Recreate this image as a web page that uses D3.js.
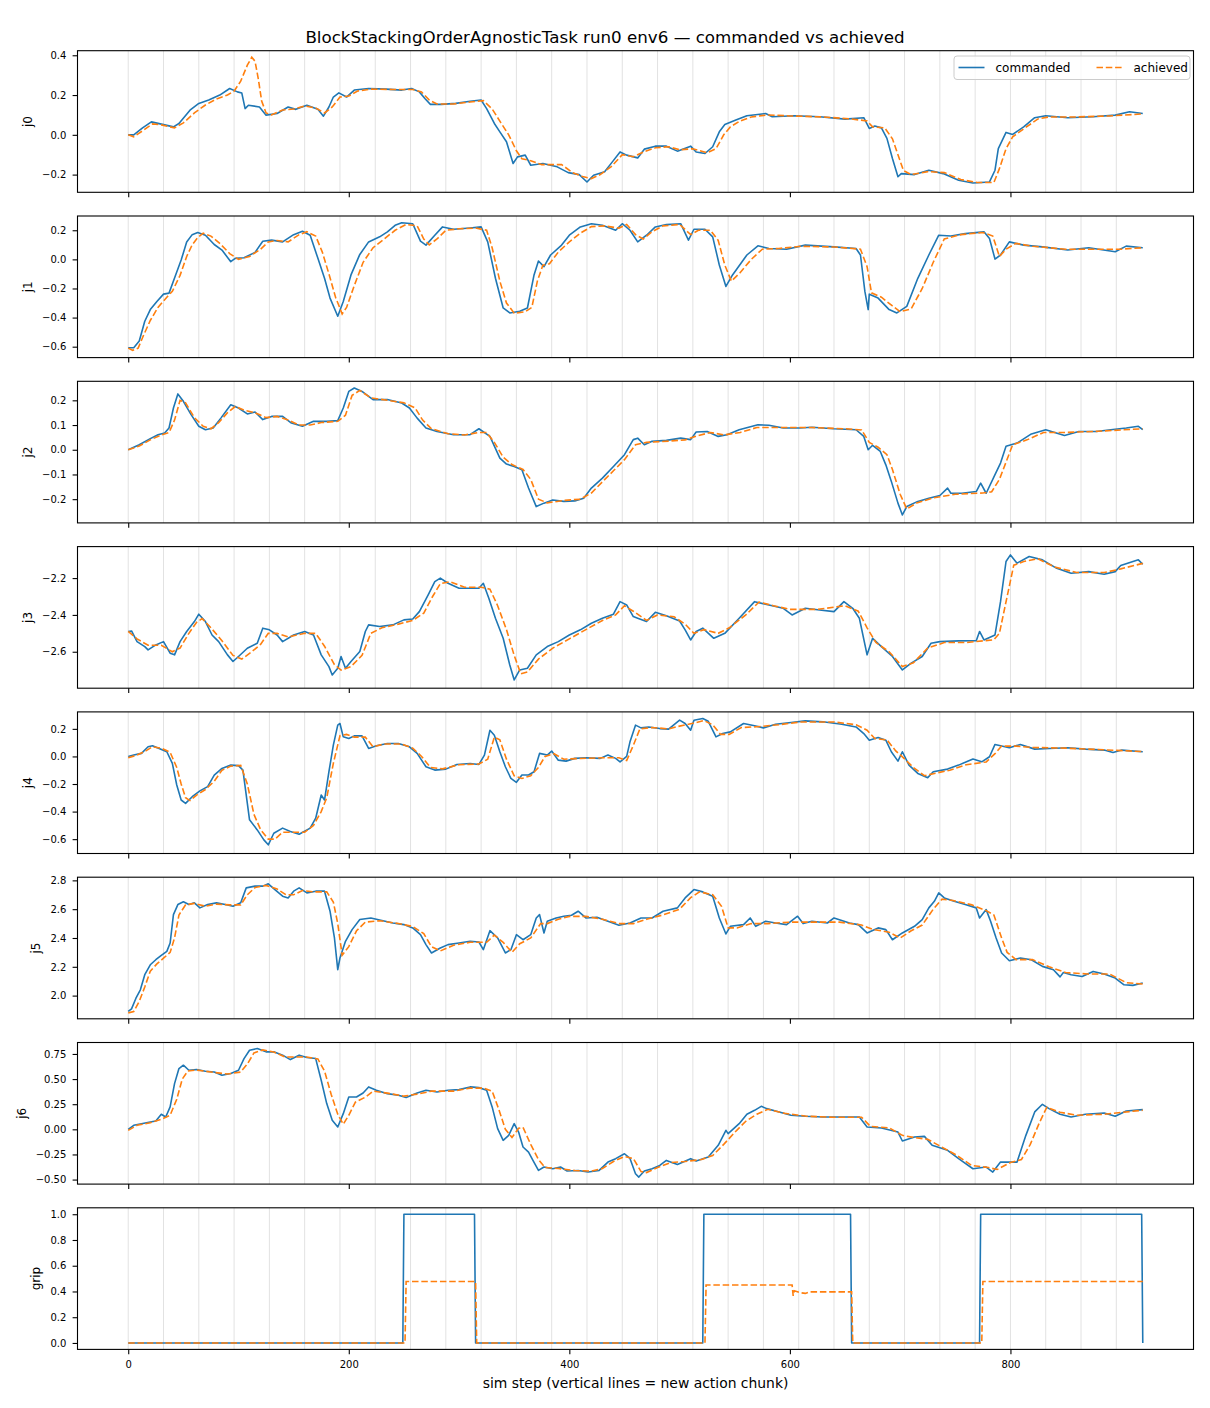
<!DOCTYPE html>
<html>
<head>
<meta charset="utf-8">
<script src="https://cdn.jsdelivr.net/npm/d3@7"></script>
<style>
  body { margin: 0; background: #fff; }
  text { font-family: "DejaVu Sans", sans-serif; fill: #000; }
</style>
</head>
<body>
<svg id="fig"></svg>
<script>
// ---- data: [sim step, value] ----
var j0_cmd = [[0,0.0],[5,0.0],[13,0.035],[21,0.065],[33,0.05],[41,0.04],[46,0.057],[56,0.124],[64,0.158],[73,0.175],[83,0.2],[92,0.233],[99,0.216],[103,0.21],[106,0.132],[109,0.149],[119,0.14],[125,0.099],[135,0.107],[145,0.14],[152,0.128],[162,0.149],[172,0.129],[177,0.094],[182,0.14],[186,0.19],[191,0.211],[198,0.19],[205,0.225],[218,0.233],[234,0.23],[248,0.225],[257,0.233],[264,0.216],[269,0.183],[274,0.153],[284,0.153],[297,0.158],[310,0.169],[320,0.175],[325,0.132],[332,0.057],[337,0.015],[343,-0.035],[349,-0.144],[353,-0.111],[360,-0.102],[365,-0.153],[376,-0.144],[389,-0.161],[399,-0.19],[409,-0.2],[416,-0.237],[422,-0.203],[432,-0.186],[439,-0.136],[446,-0.086],[452,-0.102],[462,-0.116],[468,-0.072],[478,-0.057],[488,-0.057],[498,-0.082],[510,-0.057],[515,-0.086],[523,-0.094],[530,-0.06],[536,0.015],[541,0.052],[551,0.074],[561,0.096],[578,0.107],[584,0.091],[604,0.096],[627,0.091],[650,0.079],[667,0.086],[672,0.032],[677,0.044],[683,0.035],[688,-0.018],[693,-0.119],[698,-0.211],[701,-0.195],[713,-0.2],[726,-0.178],[739,-0.195],[753,-0.228],[766,-0.242],[781,-0.237],[786,-0.178],[789,-0.069],[796,0.012],[802,0.002],[812,0.04],[822,0.086],[832,0.096],[852,0.086],[875,0.091],[895,0.099],[908,0.116],[920,0.107]]
var j0_ach = [[0,0.0],[5,-0.01],[13,0.02],[22,0.055],[30,0.05],[42,0.035],[50,0.06],[60,0.11],[70,0.15],[80,0.18],[90,0.2],[96,0.22],[102,0.27],[108,0.35],[112,0.39],[115,0.37],[118,0.28],[121,0.17],[125,0.11],[130,0.1],[140,0.125],[150,0.13],[160,0.145],[170,0.135],[178,0.11],[185,0.14],[192,0.19],[200,0.195],[208,0.22],[220,0.23],[240,0.228],[258,0.228],[266,0.215],[273,0.175],[280,0.155],[295,0.155],[310,0.165],[322,0.172],[330,0.13],[338,0.06],[345,0.0],[352,-0.08],[357,-0.12],[365,-0.13],[375,-0.15],[385,-0.15],[393,-0.15],[403,-0.19],[412,-0.21],[420,-0.22],[428,-0.2],[438,-0.16],[448,-0.1],[458,-0.11],[468,-0.085],[478,-0.065],[490,-0.06],[500,-0.075],[512,-0.07],[525,-0.09],[533,-0.07],[540,0.0],[546,0.04],[555,0.07],[565,0.09],[580,0.1],[600,0.095],[630,0.09],[655,0.08],[670,0.07],[675,0.04],[686,0.035],[693,-0.02],[698,-0.1],[703,-0.18],[710,-0.2],[725,-0.185],[740,-0.19],[755,-0.225],[770,-0.24],[785,-0.24],[790,-0.17],[796,-0.07],[802,-0.01],[812,0.03],[825,0.08],[835,0.09],[860,0.09],[890,0.095],[920,0.105]]

var j1_cmd = [[0,-0.607],[5,-0.607],[10,-0.561],[15,-0.425],[20,-0.345],[26,-0.289],[32,-0.239],[37,-0.232],[43,-0.107],[48,-0.005],[53,0.12],[58,0.17],[63,0.184],[70,0.166],[78,0.102],[85,0.064],[93,-0.016],[97,0.007],[105,0.011],[115,0.048],[122,0.125],[130,0.132],[140,0.12],[150,0.17],[158,0.193],[165,0.166],[172,0.007],[178,-0.13],[183,-0.266],[190,-0.391],[195,-0.289],[202,-0.107],[210,0.034],[218,0.12],[228,0.155],[235,0.189],[242,0.234],[248,0.252],[258,0.245],[265,0.125],[270,0.098],[278,0.166],[285,0.223],[295,0.207],[310,0.216],[320,0.223],[326,0.12],[333,-0.13],[340,-0.334],[346,-0.368],[355,-0.357],[362,-0.334],[368,-0.107],[372,-0.011],[377,-0.05],[383,0.03],[393,0.098],[400,0.166],[410,0.223],[420,0.245],[430,0.234],[442,0.2],[448,0.245],[455,0.2],[462,0.12],[470,0.166],[478,0.223],[488,0.239],[501,0.245],[508,0.132],[513,0.207],[523,0.207],[530,0.155],[536,-0.039],[542,-0.186],[548,-0.107],[561,0.03],[571,0.093],[581,0.075],[597,0.07],[614,0.098],[640,0.086],[660,0.075],[664,0.03],[668,-0.22],[671,-0.345],[672,-0.239],[680,-0.266],[690,-0.345],[697,-0.368],[706,-0.323],[716,-0.13],[726,0.03],[735,0.166],[746,0.161],[759,0.177],[776,0.189],[781,0.143],[786,0.002],[791,0.03],[799,0.12],[812,0.098],[829,0.086],[852,0.064],[871,0.08],[895,0.052],[905,0.091],[920,0.08]]
var j1_ach = [[0,-0.61],[4,-0.625],[9,-0.61],[14,-0.52],[20,-0.42],[27,-0.33],[35,-0.26],[40,-0.22],[47,-0.11],[53,0.02],[58,0.1],[63,0.15],[68,0.18],[75,0.16],[83,0.11],[92,0.04],[100,0.0],[110,0.02],[120,0.07],[127,0.12],[135,0.13],[145,0.12],[155,0.17],[162,0.19],[170,0.16],[176,0.05],[182,-0.1],[188,-0.26],[194,-0.375],[198,-0.33],[205,-0.18],[213,-0.02],[222,0.08],[232,0.14],[242,0.2],[252,0.24],[262,0.23],[268,0.14],[273,0.1],[280,0.14],[288,0.2],[300,0.21],[315,0.215],[325,0.2],[330,0.08],[337,-0.15],[343,-0.3],[350,-0.37],[360,-0.36],[366,-0.33],[371,-0.15],[376,-0.04],[382,-0.03],[390,0.05],[400,0.12],[410,0.18],[420,0.225],[432,0.23],[445,0.215],[452,0.24],[460,0.17],[467,0.14],[475,0.19],[485,0.23],[500,0.24],[510,0.17],[517,0.2],[528,0.2],[535,0.13],[541,-0.04],[547,-0.15],[555,-0.09],[565,0.0],[575,0.07],[590,0.075],[610,0.09],[640,0.085],[664,0.07],[670,-0.05],[674,-0.23],[683,-0.26],[693,-0.32],[700,-0.36],[710,-0.34],[720,-0.2],[730,-0.02],[740,0.14],[755,0.17],[775,0.185],[784,0.16],[790,0.02],[796,0.07],[805,0.11],[820,0.09],[850,0.07],[880,0.07],[900,0.07],[920,0.08]]

var j2_cmd = [[0,0.0],[10,0.02],[20,0.045],[27,0.061],[33,0.068],[37,0.088],[41,0.169],[45,0.226],[50,0.196],[57,0.142],[64,0.095],[70,0.081],[77,0.088],[84,0.128],[93,0.182],[100,0.169],[108,0.145],[115,0.153],[122,0.122],[130,0.135],[140,0.135],[148,0.108],[158,0.095],[168,0.115],[180,0.115],[190,0.118],[195,0.169],[200,0.236],[205,0.25],[212,0.236],[222,0.203],[235,0.203],[248,0.189],[255,0.169],[262,0.128],[270,0.088],[280,0.074],[295,0.061],[310,0.061],[318,0.085],[328,0.054],[337,-0.034],[343,-0.058],[350,-0.068],[357,-0.081],[363,-0.155],[370,-0.23],[377,-0.216],[385,-0.203],[395,-0.209],[405,-0.207],[413,-0.196],[420,-0.155],[430,-0.115],[440,-0.068],[450,-0.02],[458,0.041],[462,0.047],[468,0.02],[475,0.034],[488,0.038],[501,0.047],[510,0.041],[515,0.072],[525,0.074],[535,0.054],[543,0.061],[554,0.081],[571,0.101],[581,0.099],[594,0.088],[609,0.088],[620,0.091],[640,0.085],[660,0.081],[667,0.054],[671,0.0],[675,0.018],[682,-0.007],[687,-0.061],[692,-0.128],[698,-0.216],[702,-0.264],[706,-0.23],[716,-0.209],[726,-0.196],[736,-0.185],[743,-0.155],[746,-0.176],[756,-0.176],[769,-0.169],[773,-0.135],[778,-0.176],[786,-0.101],[791,-0.054],[796,0.014],[806,0.027],[819,0.064],[832,0.081],[849,0.058],[862,0.074],[878,0.074],[891,0.081],[905,0.088],[916,0.095],[920,0.081]]
var j2_ach = [[0,0.0],[10,0.015],[20,0.04],[30,0.06],[37,0.07],[42,0.12],[47,0.2],[52,0.19],[60,0.13],[68,0.095],[75,0.085],[82,0.11],[90,0.15],[97,0.175],[105,0.16],[115,0.15],[125,0.13],[135,0.135],[145,0.12],[155,0.1],[165,0.1],[175,0.11],[190,0.115],[197,0.14],[203,0.22],[210,0.24],[220,0.21],[235,0.2],[250,0.19],[260,0.17],[267,0.12],[275,0.085],[290,0.065],[305,0.06],[318,0.07],[325,0.07],[332,0.03],[340,-0.03],[348,-0.06],[358,-0.08],[365,-0.12],[372,-0.2],[380,-0.215],[395,-0.205],[410,-0.2],[420,-0.175],[430,-0.13],[440,-0.085],[450,-0.04],[460,0.02],[470,0.03],[490,0.035],[505,0.04],[515,0.055],[528,0.07],[540,0.06],[555,0.07],[570,0.09],[590,0.09],[620,0.09],[650,0.085],[665,0.08],[672,0.03],[680,0.01],[688,-0.02],[693,-0.08],[700,-0.18],[706,-0.24],[715,-0.215],[730,-0.195],[750,-0.18],[775,-0.175],[783,-0.17],[790,-0.12],[796,-0.05],[802,0.02],[815,0.04],[830,0.07],[850,0.07],[880,0.075],[920,0.085]]

var j3_cmd = [[0,-2.49],[3,-2.487],[8,-2.545],[15,-2.572],[18,-2.59],[25,-2.563],[32,-2.545],[38,-2.608],[42,-2.617],[47,-2.545],[53,-2.49],[60,-2.436],[64,-2.396],[70,-2.436],[76,-2.509],[82,-2.545],[90,-2.617],[95,-2.653],[100,-2.626],[108,-2.581],[117,-2.554],[122,-2.472],[128,-2.481],[135,-2.509],[140,-2.545],[150,-2.509],[160,-2.49],[168,-2.509],[175,-2.617],[182,-2.681],[185,-2.726],[190,-2.69],[193,-2.626],[197,-2.69],[202,-2.653],[210,-2.599],[215,-2.49],[218,-2.454],[228,-2.463],[240,-2.454],[250,-2.427],[258,-2.422],[264,-2.382],[272,-2.291],[278,-2.219],[283,-2.2],[290,-2.228],[300,-2.255],[310,-2.255],[318,-2.255],[322,-2.228],[327,-2.31],[333,-2.418],[340,-2.527],[346,-2.672],[350,-2.753],[355,-2.699],[362,-2.69],[370,-2.617],[380,-2.572],[390,-2.545],[400,-2.509],[410,-2.481],[420,-2.445],[430,-2.418],[440,-2.396],[446,-2.328],[452,-2.346],[458,-2.409],[462,-2.418],[470,-2.436],[478,-2.386],[488,-2.404],[500,-2.433],[505,-2.481],[510,-2.536],[515,-2.49],[521,-2.472],[531,-2.527],[541,-2.5],[554,-2.418],[568,-2.328],[581,-2.346],[594,-2.364],[602,-2.4],[614,-2.364],[627,-2.373],[640,-2.382],[649,-2.328],[657,-2.364],[663,-2.418],[670,-2.617],[675,-2.527],[683,-2.572],[693,-2.626],[702,-2.699],[710,-2.662],[720,-2.626],[728,-2.554],[736,-2.545],[753,-2.541],[769,-2.54],[772,-2.49],[776,-2.536],[786,-2.509],[791,-2.328],[796,-2.11],[800,-2.074],[806,-2.119],[817,-2.083],[829,-2.101],[842,-2.147],[855,-2.174],[871,-2.165],[885,-2.179],[895,-2.165],[900,-2.132],[916,-2.101],[920,-2.125]]
var j3_ach = [[0,-2.49],[8,-2.53],[18,-2.565],[30,-2.565],[40,-2.6],[47,-2.58],[55,-2.5],[62,-2.44],[67,-2.42],[75,-2.47],[85,-2.54],[95,-2.62],[103,-2.64],[112,-2.6],[120,-2.56],[127,-2.5],[135,-2.5],[145,-2.52],[160,-2.5],[170,-2.5],[178,-2.57],[187,-2.67],[193,-2.7],[202,-2.68],[212,-2.62],[220,-2.5],[230,-2.47],[245,-2.45],[258,-2.43],[268,-2.39],[276,-2.3],[283,-2.23],[292,-2.22],[305,-2.25],[320,-2.25],[328,-2.26],[335,-2.35],[343,-2.48],[350,-2.62],[356,-2.72],[362,-2.71],[372,-2.64],[385,-2.58],[400,-2.53],[415,-2.48],[430,-2.43],[442,-2.4],[450,-2.35],[458,-2.38],[470,-2.43],[480,-2.4],[495,-2.41],[505,-2.45],[513,-2.5],[522,-2.48],[535,-2.5],[545,-2.47],[560,-2.4],[572,-2.33],[585,-2.35],[600,-2.37],[625,-2.37],[650,-2.35],[662,-2.38],[670,-2.47],[678,-2.55],[690,-2.6],[702,-2.68],[712,-2.66],[725,-2.58],[740,-2.55],[760,-2.55],[785,-2.535],[790,-2.5],[797,-2.3],[803,-2.13],[812,-2.11],[825,-2.095],[840,-2.14],[860,-2.17],[885,-2.17],[900,-2.15],[920,-2.12]]

var j4_cmd = [[0,0.0],[5,0.01],[12,0.022],[18,0.07],[22,0.077],[28,0.058],[35,0.034],[40,-0.05],[44,-0.207],[48,-0.316],[52,-0.34],[58,-0.292],[65,-0.25],[72,-0.219],[78,-0.135],[85,-0.087],[93,-0.063],[100,-0.067],[104,-0.099],[110,-0.46],[117,-0.533],[123,-0.605],[127,-0.641],[132,-0.557],[140,-0.52],[147,-0.545],[155,-0.564],[165,-0.52],[170,-0.448],[175,-0.28],[178,-0.316],[182,-0.111],[186,0.082],[190,0.227],[192,0.239],[195,0.142],[200,0.13],[205,0.149],[212,0.149],[218,0.058],[225,0.077],[235,0.094],[245,0.094],[255,0.07],[262,0.022],[270,-0.075],[278,-0.099],[288,-0.092],[298,-0.058],[310,-0.051],[318,-0.058],[323,0.01],[328,0.19],[332,0.154],[337,0.034],[342,-0.075],[347,-0.159],[352,-0.188],[357,-0.135],[363,-0.135],[368,-0.111],[373,0.022],[380,0.01],[384,0.039],[390,-0.027],[397,-0.034],[405,-0.014],[415,-0.01],[428,-0.014],[435,0.01],[442,-0.014],[446,-0.039],[452,0.0],[455,0.106],[460,0.227],[465,0.207],[472,0.214],[482,0.202],[490,0.198],[500,0.263],[505,0.239],[510,0.19],[513,0.263],[521,0.275],[526,0.255],[533,0.142],[539,0.166],[546,0.178],[558,0.239],[568,0.222],[576,0.207],[587,0.234],[601,0.246],[614,0.258],[630,0.251],[647,0.234],[660,0.214],[667,0.166],[672,0.118],[680,0.137],[687,0.118],[692,0.034],[698,-0.034],[702,0.034],[708,-0.063],[716,-0.123],[725,-0.154],[730,-0.111],[743,-0.092],[753,-0.063],[766,-0.019],[774,-0.039],[781,-0.002],[786,0.087],[799,0.063],[809,0.087],[822,0.053],[835,0.058],[852,0.063],[868,0.053],[885,0.046],[893,0.029],[901,0.046],[920,0.034]]
var j4_ach = [[0,-0.01],[8,0.01],[16,0.04],[22,0.07],[30,0.06],[38,0.03],[44,-0.08],[48,-0.2],[52,-0.3],[56,-0.32],[62,-0.28],[70,-0.24],[78,-0.18],[85,-0.1],[93,-0.07],[102,-0.065],[108,-0.2],[114,-0.42],[120,-0.53],[127,-0.6],[133,-0.6],[140,-0.55],[150,-0.55],[160,-0.55],[168,-0.5],[175,-0.4],[180,-0.3],[186,-0.05],[192,0.15],[198,0.16],[205,0.14],[215,0.14],[222,0.07],[232,0.09],[248,0.09],[258,0.06],[266,0.0],[274,-0.08],[285,-0.09],[300,-0.06],[318,-0.055],[326,-0.02],[332,0.14],[337,0.12],[343,-0.02],[350,-0.14],[357,-0.16],[365,-0.14],[372,-0.08],[378,0.0],[386,0.02],[395,-0.02],[410,-0.015],[430,-0.01],[445,-0.01],[452,-0.03],[458,0.08],[464,0.2],[475,0.21],[490,0.2],[500,0.22],[512,0.24],[522,0.26],[530,0.23],[537,0.16],[545,0.16],[556,0.21],[570,0.215],[590,0.23],[610,0.25],[640,0.25],[660,0.23],[670,0.19],[677,0.13],[688,0.12],[696,0.04],[703,-0.01],[712,-0.08],[722,-0.14],[730,-0.125],[745,-0.1],[760,-0.06],[778,-0.04],[786,0.02],[792,0.075],[805,0.075],[820,0.065],[850,0.06],[880,0.05],[920,0.035]]

var j5_cmd = [[0,1.89],[3,1.908],[7,1.982],[11,2.04],[15,2.145],[20,2.214],[25,2.249],[30,2.279],[35,2.307],[38,2.365],[41,2.562],[45,2.632],[50,2.651],[55,2.632],[60,2.644],[65,2.609],[72,2.632],[80,2.644],[88,2.632],[95,2.62],[102,2.644],[107,2.748],[115,2.76],[122,2.76],[127,2.776],[133,2.736],[140,2.69],[145,2.678],[150,2.725],[155,2.748],[162,2.713],[170,2.725],[178,2.725],[183,2.586],[187,2.4],[190,2.18],[192,2.261],[197,2.377],[203,2.458],[210,2.528],[220,2.539],[230,2.521],[240,2.504],[250,2.493],[258,2.47],[265,2.423],[270,2.354],[275,2.296],[283,2.33],[290,2.354],[300,2.365],[310,2.377],[318,2.372],[322,2.319],[328,2.451],[335,2.4],[342,2.296],[347,2.319],[352,2.423],[358,2.388],[365,2.423],[370,2.539],[373,2.562],[377,2.435],[380,2.516],[388,2.539],[395,2.551],[402,2.558],[408,2.586],[415,2.539],[425,2.544],[435,2.516],[445,2.488],[455,2.504],[465,2.539],[475,2.539],[485,2.586],[498,2.609],[505,2.678],[513,2.736],[521,2.72],[530,2.69],[536,2.539],[542,2.428],[546,2.481],[558,2.493],[564,2.539],[569,2.481],[578,2.516],[587,2.504],[597,2.493],[607,2.551],[612,2.5],[620,2.516],[634,2.504],[640,2.539],[654,2.504],[662,2.493],[670,2.435],[680,2.47],[687,2.458],[693,2.388],[702,2.435],[713,2.481],[720,2.528],[726,2.609],[731,2.655],[735,2.713],[740,2.678],[749,2.655],[759,2.632],[769,2.609],[772,2.539],[778,2.597],[782,2.516],[787,2.4],[792,2.296],[799,2.242],[809,2.261],[819,2.249],[829,2.203],[839,2.18],[845,2.13],[848,2.16],[855,2.145],[865,2.133],[875,2.168],[885,2.15],[895,2.122],[903,2.075],[911,2.071],[920,2.087]]
var j5_ach = [[0,1.88],[5,1.89],[10,1.96],[15,2.06],[20,2.17],[26,2.22],[32,2.26],[38,2.3],[42,2.4],[46,2.56],[52,2.63],[60,2.64],[70,2.62],[80,2.635],[92,2.63],[102,2.63],[108,2.7],[115,2.75],[125,2.765],[135,2.74],[143,2.7],[150,2.7],[158,2.73],[168,2.72],[180,2.72],[186,2.65],[190,2.5],[194,2.28],[200,2.34],[207,2.45],[215,2.51],[228,2.52],[245,2.5],[258,2.48],[268,2.43],[275,2.34],[283,2.31],[295,2.35],[310,2.37],[325,2.37],[332,2.42],[340,2.37],[348,2.3],[355,2.36],[365,2.4],[374,2.5],[380,2.5],[390,2.53],[400,2.55],[415,2.55],[430,2.53],[445,2.5],[458,2.5],[470,2.53],[485,2.56],[500,2.6],[510,2.68],[518,2.72],[530,2.7],[538,2.62],[544,2.47],[552,2.47],[565,2.5],[580,2.5],[600,2.51],[620,2.51],[645,2.51],[665,2.49],[675,2.46],[690,2.44],[700,2.4],[710,2.45],[720,2.49],[730,2.6],[738,2.67],[748,2.66],[765,2.63],[778,2.59],[785,2.56],[792,2.4],[797,2.3],[805,2.25],[820,2.25],[835,2.2],[850,2.16],[870,2.15],[890,2.15],[905,2.09],[920,2.08]]

var j6_cmd = [[0,0.0],[5,0.04],[12,0.056],[20,0.073],[25,0.083],[30,0.15],[34,0.123],[38,0.223],[42,0.455],[46,0.605],[50,0.638],[55,0.588],[62,0.595],[70,0.578],[78,0.571],[85,0.538],[93,0.555],[100,0.588],[105,0.704],[110,0.787],[117,0.804],[125,0.771],[132,0.771],[140,0.738],[147,0.694],[155,0.738],[162,0.714],[170,0.704],[175,0.488],[180,0.256],[185,0.09],[190,0.023],[195,0.156],[200,0.322],[207,0.322],[213,0.362],[218,0.422],[225,0.389],[235,0.355],[245,0.339],[252,0.316],[262,0.362],[270,0.389],[280,0.372],[290,0.389],[300,0.395],[310,0.422],[318,0.415],[325,0.389],[330,0.223],[335,0.007],[340,-0.11],[345,-0.06],[350,0.056],[354,-0.027],[358,-0.176],[363,-0.226],[367,-0.309],[372,-0.409],[377,-0.375],[385,-0.392],[392,-0.375],[398,-0.415],[408,-0.409],[417,-0.425],[427,-0.409],[435,-0.326],[442,-0.292],[450,-0.243],[455,-0.29],[460,-0.442],[463,-0.475],[468,-0.415],[475,-0.392],[482,-0.359],[488,-0.309],[498,-0.349],[510,-0.292],[515,-0.316],[526,-0.276],[535,-0.159],[542,-0.01],[544,-0.043],[554,0.056],[561,0.15],[568,0.189],[574,0.229],[579,0.206],[587,0.183],[601,0.14],[614,0.13],[630,0.123],[647,0.123],[663,0.123],[670,0.023],[683,0.013],[698,-0.027],[702,-0.116],[713,-0.076],[722,-0.07],[729,-0.159],[743,-0.209],[753,-0.292],[766,-0.392],[778,-0.375],[784,-0.425],[791,-0.326],[806,-0.326],[814,-0.06],[822,0.173],[829,0.249],[835,0.206],[845,0.15],[855,0.123],[868,0.15],[885,0.163],[895,0.13],[905,0.183],[920,0.196]]
var j6_ach = [[0,-0.01],[8,0.04],[20,0.065],[30,0.1],[38,0.14],[44,0.3],[49,0.5],[54,0.58],[62,0.59],[75,0.57],[90,0.55],[102,0.57],[108,0.65],[114,0.76],[122,0.79],[132,0.77],[142,0.72],[150,0.72],[162,0.72],[172,0.7],[178,0.58],[184,0.35],[190,0.15],[195,0.05],[200,0.14],[206,0.27],[215,0.32],[222,0.38],[235,0.36],[250,0.33],[262,0.35],[275,0.38],[295,0.38],[310,0.41],[322,0.41],[330,0.38],[336,0.2],[342,0.0],[348,-0.08],[354,0.01],[358,0.02],[365,-0.15],[372,-0.3],[378,-0.38],[390,-0.39],[405,-0.41],[420,-0.415],[430,-0.39],[440,-0.32],[450,-0.27],[458,-0.29],[465,-0.42],[470,-0.43],[480,-0.38],[492,-0.33],[505,-0.32],[520,-0.3],[530,-0.26],[540,-0.15],[550,-0.03],[560,0.08],[570,0.15],[580,0.2],[595,0.16],[615,0.13],[640,0.12],[665,0.12],[673,0.03],[690,0.015],[702,-0.06],[712,-0.08],[725,-0.1],[735,-0.16],[750,-0.25],[765,-0.36],[780,-0.38],[788,-0.4],[800,-0.33],[810,-0.3],[818,-0.15],[826,0.06],[833,0.22],[845,0.17],[860,0.14],[885,0.15],[920,0.19]]

var grip_cmd = [[0,0],[249,0],[250,1],[314,1],[315,0],[521,0],[522,1],[655,1],[656,0],[772,0],[773,1],[919,1],[920,0]]
var grip_ach = [[0,0],[251,0],[252,0.477],[315,0.477],[316,0],[523,0],[524,0.45],[602,0.45],[603,0.366],[604,0.405],[610,0.39],[614,0.385],[618,0.397],[656,0.397],[657,0],[774,0],[775,0.477],[920,0.477]]

// per-panel axis settings
var panel_names = ["j0", "j1", "j2", "j3", "j4", "j5", "j6", "grip"]
var panel_ylims = [[-0.289,0.423],[-0.675,0.298],[-0.296,0.277],[-2.798,-2.029],[-0.704,0.323],[1.839,2.822],[-0.545,0.864],[-0.05,1.05]]
var panel_yticks = [
	[-0.2,0.0,0.2,0.4],
	[-0.6,-0.4,-0.2,0.0,0.2],
	[-0.2,-0.1,0.0,0.1,0.2],
	[-2.6,-2.4,-2.2],
	[-0.6,-0.4,-0.2,0.0,0.2],
	[2.0,2.2,2.4,2.6,2.8],
	[-0.50,-0.25,0.00,0.25,0.50,0.75],
	[0.0,0.2,0.4,0.6,0.8,1.0]
]
var panel_decimals = [1,1,1,1,1,1,2,1]
var x_ticks = [0,200,400,600,800]
var chunk_starts = [0,32,64,96,128,160,192,224,256,288,320,352,384,416,448,480,512,544,576,608,640,672,704,736,768,800,832,864,896]

var cmd_series = [j0_cmd, j1_cmd, j2_cmd, j3_cmd, j4_cmd, j5_cmd, j6_cmd, grip_cmd]
var ach_series = [j0_ach, j1_ach, j2_ach, j3_ach, j4_ach, j5_ach, j6_ach, grip_ach]

var title = "BlockStackingOrderAgnosticTask run0 env6 \u2014 commanded vs achieved"
var x_label = "sim step (vertical lines = new action chunk)"

// ---- layout ----
var W = 1210, H = 1408
var left = 77.5, right = 1193.5
var top0 = 50.7, pitch = 165.3, ph = 141.6
var tickLen = 4.9, tickPad = 6.3
var c_cmd = "#1f77b4", c_ach = "#ff7f0e"

var svg = d3.select("#fig").attr("width", W).attr("height", H)

var xScale = d3.scaleLinear().domain([-46, 966]).range([0, right - left])

svg.append("text")
	.attr("x", W/2).attr("y", 42.5)
	.attr("text-anchor", "middle")
	.style("font-size", "16.7px")
	.text(title)

panel_names.forEach(function(name, i){
	var top = top0 + i*pitch
	var yScale = d3.scaleLinear().domain(panel_ylims[i]).range([ph, 0])
	var g = svg.append("g").attr("transform", "translate(" + left + "," + top + ")")

	g.append("clipPath").attr("id", "clip" + i)
		.append("rect").attr("width", right - left).attr("height", ph)

	// chunk boundaries
	g.selectAll(".chunk")
		.data(chunk_starts)
		.enter()
		.append("line")
		.attr("class", "chunk")
		.attr("x1", d => xScale(d)).attr("x2", d => xScale(d))
		.attr("y1", 0).attr("y2", ph)
		.attr("stroke", "#000")
		.attr("stroke-opacity", 0.15)
		.attr("stroke-width", 0.8)

	var line = d3.line()
		.x(d => xScale(d[0]))
		.y(d => yScale(d[1]))

	var plot = g.append("g").attr("clip-path", "url(#clip" + i + ")")
	plot.append("path")
		.datum(cmd_series[i])
		.attr("fill", "none")
		.attr("stroke", c_cmd)
		.attr("stroke-width", 1.6)
		.attr("stroke-linejoin", "round")
		.attr("d", line)
	plot.append("path")
		.datum(ach_series[i])
		.attr("fill", "none")
		.attr("stroke", c_ach)
		.attr("stroke-width", 1.6)
		.attr("stroke-dasharray", "6.5,2.8")
		.attr("d", line)

	// y axis
	var fmt = d3.format("." + panel_decimals[i] + "f")
	var yAxis = g.append("g")
		.call(d3.axisLeft(yScale).tickValues(panel_yticks[i]).tickFormat(fmt)
			.tickSize(tickLen).tickPadding(tickPad))
	yAxis.select(".domain").remove()
	yAxis.selectAll("line").attr("stroke-width", 1.1)
	yAxis.selectAll("text").attr("fill", "#000").style("font-size", "10px")
		.style("font-family", "DejaVu Sans")

	// x axis (labels only on the last panel)
	var isLast = (i == panel_names.length - 1)
	var xAxis = g.append("g")
		.attr("transform", "translate(0," + ph + ")")
		.call(d3.axisBottom(xScale).tickValues(x_ticks)
			.tickFormat(isLast ? d3.format("d") : "")
			.tickSize(tickLen).tickPadding(tickPad))
	xAxis.select(".domain").remove()
	xAxis.selectAll("line").attr("stroke-width", 1.1)
	xAxis.selectAll("text").attr("fill", "#000").style("font-size", "10px")
		.style("font-family", "DejaVu Sans")

	// frame
	g.append("rect")
		.attr("width", right - left).attr("height", ph)
		.attr("fill", "none").attr("stroke", "#000").attr("stroke-width", 1.1)

	// y label, placed left of the widest tick label
	var minX = 0
	yAxis.selectAll("text").each(function(){
		var b = this.getBBox()
		if(b.x < minX) minX = b.x
	})
	g.append("text")
		.attr("transform", "translate(" + (minX - 10) + "," + (ph/2) + ") rotate(-90)")
		.attr("text-anchor", "middle")
		.style("font-size", "12px")
		.text(name)
})

// x label
svg.append("text")
	.attr("x", (left + right)/2).attr("y", 1388)
	.attr("text-anchor", "middle")
	.style("font-size", "13.9px")
	.text(x_label)

// legend
var leg = svg.append("g").attr("transform", "translate(954,56)")
leg.append("rect")
	.attr("width", 236).attr("height", 23.5).attr("rx", 3)
	.attr("fill", "#fff").attr("fill-opacity", 0.8)
	.attr("stroke", "#cccccc").attr("stroke-width", 1)
var legend_items = [
	{label: "commanded", color: c_cmd, dash: null, x: 4.5},
	{label: "achieved", color: c_ach, dash: "6.5,2.8", x: 142.5}
]
legend_items.forEach(function(it){
	leg.append("line")
		.attr("x1", it.x).attr("x2", it.x + 26)
		.attr("y1", 11.5).attr("y2", 11.5)
		.attr("stroke", it.color).attr("stroke-width", 1.6)
		.attr("stroke-dasharray", it.dash)
	leg.append("text")
		.attr("x", it.x + 37).attr("y", 15.8)
		.style("font-size", "12px")
		.text(it.label)
})
</script>
</body>
</html>
